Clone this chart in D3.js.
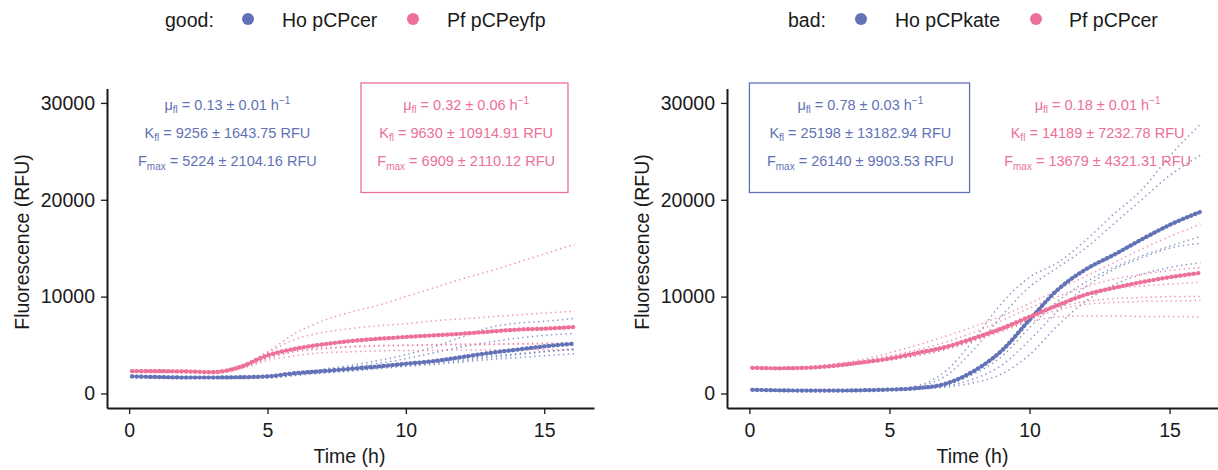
<!DOCTYPE html>
<html>
<head>
<meta charset="utf-8">
<script src="https://cdn.jsdelivr.net/npm/d3@7"></script>
<style>
  html, body { margin: 0; padding: 0; background: #ffffff; }
  svg text { font-family: "Liberation Sans", Arial, Helvetica, sans-serif; }
</style>
</head>
<body>
<svg id="chart" width="1218" height="470"></svg>
<script>
// Sampling times (h)
const hours = [0.1, 1, 2, 3, 4, 5, 6, 7, 8, 9, 10, 11, 12, 13, 14, 15, 16.1];

// "good" pair: Ho pCPcer (blue) and Pf pCPeyfp (pink), fluorescence in RFU
const goodHoMean = [1760, 1700, 1650, 1650, 1680, 1760, 2100, 2310, 2550, 2790, 3070, 3340, 3750, 4170, 4520, 4860, 5150];
const goodHoReps = [
  [1750, 1700, 1650, 1650, 1650, 1700, 2100, 2500, 2900, 3400, 4000, 4800, 5800, 6800, 7250, 7450, 7750],
  [1750, 1700, 1650, 1650, 1650, 1700, 2000, 2350, 2700, 3100, 3600, 4200, 4800, 5300, 5700, 6000, 6200],
  [1700, 1650, 1600, 1600, 1600, 1650, 1900, 2150, 2400, 2650, 2900, 3150, 3400, 3700, 4000, 4300, 4600],
  [1650, 1600, 1550, 1550, 1550, 1600, 1850, 2100, 2300, 2550, 2800, 3000, 3250, 3500, 3700, 3900, 4100],
  [1800, 1750, 1700, 1700, 1700, 1750, 2000, 2250, 2500, 2750, 3000, 3250, 3550, 3850, 4100, 4350, 4500]
];
const goodPfMean = [2300, 2300, 2280, 2200, 2720, 3930, 4620, 5070, 5410, 5650, 5830, 6000, 6170, 6380, 6590, 6690, 6870];
const goodPfReps = [
  [2300, 2300, 2300, 2250, 2900, 4300, 6200, 7500, 8400, 9100, 10000, 10900, 11800, 12600, 13500, 14400, 15400],
  [2200, 2200, 2250, 2200, 2800, 4200, 5600, 6300, 6700, 7000, 7200, 7500, 7700, 7900, 8100, 8300, 8500],
  [2300, 2300, 2250, 2150, 2600, 3600, 4300, 4600, 4800, 4900, 4950, 5000, 5000, 5050, 5100, 5100, 5150],
  [2200, 2150, 2150, 2050, 2500, 3400, 3900, 4200, 4300, 4400, 4450, 4450, 4500, 4500, 4500, 4550, 4550],
  [2400, 2400, 2350, 2250, 2700, 3700, 4400, 4700, 4850, 4950, 5000, 5050, 5100, 5100, 5150, 5200, 5250]
];

// "bad" pair: Ho pCPkate (blue) and Pf pCPcer (pink)
const badHoMean = [380, 330, 300, 300, 330, 400, 550, 1000, 2300, 4400, 7600, 10700, 12800, 14300, 15900, 17400, 18750];
const badHoReps = [
  [350, 300, 280, 280, 320, 450, 800, 2300, 5500, 9300, 12000, 13500, 15800, 18500, 21000, 24500, 27800],
  [350, 300, 280, 280, 320, 420, 700, 1800, 4500, 8000, 11000, 13000, 15000, 17500, 20000, 22500, 24600],
  [350, 300, 280, 280, 300, 380, 550, 900, 2000, 3800, 6800, 9500, 11500, 13000, 14200, 15200, 16200],
  [350, 300, 280, 280, 300, 370, 500, 750, 1500, 2900, 5500, 8500, 11000, 12800, 14000, 15000, 15500],
  [350, 300, 280, 280, 300, 360, 450, 650, 1100, 2000, 4000, 7000, 9500, 11200, 12300, 13000, 13500]
];
const badPfMean = [2650, 2600, 2650, 2850, 3200, 3600, 4200, 4800, 5700, 6700, 7900, 9100, 10200, 10900, 11500, 12000, 12450];
const badPfReps = [
  [2700, 2650, 2750, 3050, 3500, 4200, 5000, 5900, 6900, 8000, 9300, 10700, 12100, 13500, 14900, 16200, 17500],
  [2700, 2650, 2700, 2950, 3350, 3900, 4500, 5300, 6300, 7500, 8800, 10000, 11000, 11800, 12300, 12700, 13000],
  [2700, 2650, 2700, 2900, 3250, 3700, 4200, 4900, 5800, 6900, 8100, 9300, 10200, 10800, 11100, 11300, 11500],
  [2650, 2600, 2650, 2850, 3150, 3550, 4000, 4700, 5600, 6700, 7900, 8900, 9500, 9800, 9900, 10000, 10000],
  [2600, 2550, 2600, 2800, 3100, 3500, 3950, 4600, 5500, 6500, 7600, 8600, 9200, 9400, 9500, 9550, 9600],
  [2550, 2500, 2550, 2750, 3050, 3450, 3900, 4500, 5400, 6400, 7400, 7900, 8000, 8000, 7950, 7950, 7900]
];

// Axis ticks and labels
const xTicks = [0, 5, 10, 15];
const yTicks = [0, 10000, 20000, 30000];
const xTitle = "Time (h)";
const yTitle = "Fluorescence (RFU)";

// Legends
const goodLegend = ["good:", "Ho pCPcer", "Pf pCPeyfp"];
const badLegend = ["bad:", "Ho pCPkate", "Pf pCPcer"];

// Fitted growth parameters: [mu, mu sd, K, K sd, Fmax, Fmax sd]
const goodHoFit = ["0.13", "0.01", "9256", "1643.75", "5224", "2104.16"];
const goodPfFit = ["0.32", "0.06 ", "9630", "10914.91", "6909", "2110.12"];
const badHoFit = ["0.78", "0.03", "25198", "13182.94", "26140", "9903.53"];
const badPfFit = ["0.18", "0.01 ", "14189", "7232.78", "13679", "4321.31"];

const BLUE = "#6272b6";
const PINK = "#ec7097";
const INK = "#1a1a1a";
const FS = 19.5;

const svg = d3.select("#chart");
const y = d3.scaleLinear().domain([-1500, 31500]).range([408, 88.4]);

function fitLabel(g, cx, yTop, vals, color) {
  const t = g.append("g").attr("fill", color).attr("font-size", 14.5).attr("text-anchor", "middle");
  const l1 = t.append("text").attr("x", cx).attr("y", yTop);
  l1.append("tspan").text("\u03bc");
  l1.append("tspan").attr("font-size", 10).attr("dy", 3).text("fl");
  l1.append("tspan").attr("dy", -3).text(" = " + vals[0] + " \u00b1 " + vals[1] + " h");
  l1.append("tspan").attr("font-size", 10).attr("dy", -6).text("\u22121");
  const l2 = t.append("text").attr("x", cx).attr("y", yTop + 27.5);
  l2.append("tspan").text("K");
  l2.append("tspan").attr("font-size", 10).attr("dy", 3).text("fl");
  l2.append("tspan").attr("dy", -3).text(" = " + vals[2] + " \u00b1 " + vals[3] + " RFU");
  const l3 = t.append("text").attr("x", cx).attr("y", yTop + 55.5);
  l3.append("tspan").text("F");
  l3.append("tspan").attr("font-size", 10).attr("dy", 4).text("max");
  l3.append("tspan").attr("dy", -4).text(" = " + vals[4] + " \u00b1 " + vals[5] + " RFU");
}

function drawPanel(opts) {
  const x = d3.scaleLinear().domain([-0.8, 16.8]).range(opts.range);
  const g = svg.append("g");
  const line = d3.line()
    .x((d, i) => x(hours[i]))
    .y(d => y(d))
    .curve(d3.curveMonotoneX);

  // replicate wells
  const reps = [
    ...opts.hoReps.map(r => ({ r, c: BLUE })),
    ...opts.pfReps.map(r => ({ r, c: PINK }))
  ];
  g.append("g").selectAll("path").data(reps).join("path")
    .attr("d", d => line(d.r))
    .attr("fill", "none")
    .attr("stroke", d => d.c)
    .attr("stroke-width", 1.5)
    .attr("stroke-opacity", 0.75)
    .attr("stroke-dasharray", "1.4 3.4");

  // mean curves, drawn as beaded runs of markers
  [{ m: opts.hoMean, c: BLUE }, { m: opts.pfMean, c: PINK }].forEach(s => {
    g.append("path")
      .attr("d", line(s.m))
      .attr("fill", "none")
      .attr("stroke", s.c)
      .attr("stroke-width", 4.2)
      .attr("stroke-linecap", "round")
      .attr("stroke-dasharray", "0.6 3.9");
  });

  // axes
  const ya = g.append("g").attr("transform", `translate(${opts.range[0]},0)`)
    .call(d3.axisLeft(y).tickValues(yTicks).tickSize(6).tickSizeOuter(0).tickPadding(6).tickFormat(d3.format("d")));
  const xa = g.append("g").attr("transform", "translate(0,408)")
    .call(d3.axisBottom(x).tickValues(xTicks).tickSize(6).tickSizeOuter(0).tickPadding(9.5).tickFormat(d3.format("d")));
  [ya, xa].forEach(a => {
    a.select(".domain").attr("stroke", INK).attr("stroke-width", 2);
    a.selectAll(".tick line").attr("stroke", INK).attr("stroke-width", 1.3);
    a.selectAll(".tick text").attr("fill", INK).attr("font-size", FS)
      .attr("font-family", "'Liberation Sans', Arial, sans-serif");
  });

  g.append("text")
    .attr("x", (opts.range[0] + x(16.8)) / 2 - 1)
    .attr("y", 463)
    .attr("text-anchor", "middle")
    .attr("font-size", FS).attr("fill", INK)
    .text(xTitle);
  g.append("text")
    .attr("transform", `translate(${opts.range[0] - 78},242) rotate(-90)`)
    .attr("text-anchor", "middle")
    .attr("font-size", FS).attr("fill", INK)
    .text(yTitle);

  // fit annotations
  fitLabel(g, x(opts.hoLabelT), 110, opts.hoFit, BLUE);
  fitLabel(g, x(opts.pfLabelT), 110, opts.pfFit, PINK);
  const b = opts.box;
  g.append("rect")
    .attr("x", x(b.t0)).attr("y", 83)
    .attr("width", x(b.t1) - x(b.t0)).attr("height", 109.5)
    .attr("fill", "none").attr("stroke", b.color).attr("stroke-width", 1.3);

  // legend
  const L = opts.legend;
  const lg = g.append("g").attr("font-size", FS).attr("fill", INK);
  lg.append("text").attr("x", L.x[0]).attr("y", 27).text(L.labels[0]);
  lg.append("circle").attr("cx", L.x[1]).attr("cy", 19).attr("r", 6).attr("fill", BLUE);
  lg.append("text").attr("x", L.x[2]).attr("y", 27).text(L.labels[1]);
  lg.append("circle").attr("cx", L.x[3]).attr("cy", 19).attr("r", 6).attr("fill", PINK);
  lg.append("text").attr("x", L.x[4]).attr("y", 27).text(L.labels[2]);
}

drawPanel({
  range: [107, 594],
  hoMean: goodHoMean, hoReps: goodHoReps,
  pfMean: goodPfMean, pfReps: goodPfReps,
  hoFit: goodHoFit, pfFit: goodPfFit,
  hoLabelT: 3.55, pfLabelT: 12.18,
  box: { t0: 8.38, t1: 15.86, color: PINK },
  legend: { labels: goodLegend, x: [165, 248, 282, 413, 447] }
});

drawPanel({
  range: [727, 1220],
  hoMean: badHoMean, hoReps: badHoReps,
  pfMean: badPfMean, pfReps: badPfReps,
  hoFit: badHoFit, pfFit: badPfFit,
  hoLabelT: 3.96, pfLabelT: 12.43,
  box: { t0: 0.0, t1: 7.86, color: BLUE },
  legend: { labels: badLegend, x: [788, 861, 895, 1036, 1069] }
});
</script>
</body>
</html>
